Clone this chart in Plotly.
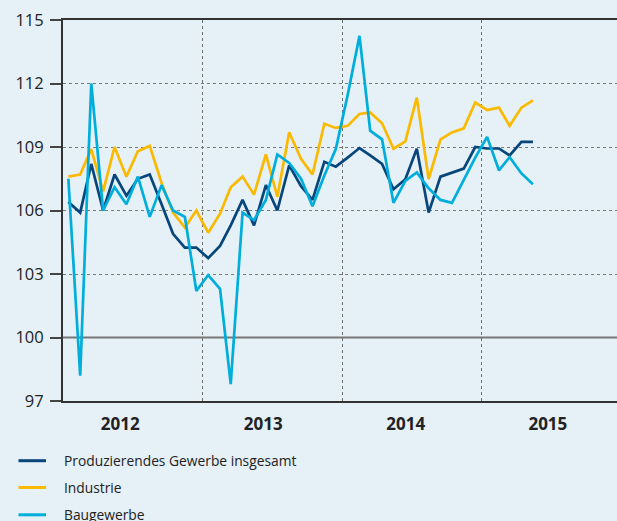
import plotly.graph_objects as go
import pandas as pd

# ---- data (monthly, Jan 2012 - May 2015) ----
months = pd.date_range("2012-01-01", periods=41, freq="MS") + pd.Timedelta(days=14)

gesamt = [106.4, 105.9, 108.2, 106.0, 107.7, 106.7, 107.5, 107.7, 106.3, 104.9,
          104.25, 104.25, 103.75, 104.33, 105.3, 106.5, 105.3, 107.2, 106.0, 108.13,
          107.15, 106.5, 108.3, 108.07, 108.5, 108.95, 108.6, 108.2, 107.0, 107.48,
          108.92, 105.9, 107.6, 107.8, 107.98, 109.0, 108.93, 108.93, 108.6, 109.24,
          109.24]
industrie = [107.6, 107.7, 108.9, 106.9, 109.0, 107.6, 108.8, 109.05, 107.3, 105.9,
             105.2, 106.0, 104.95, 105.85, 107.1, 107.6, 106.75, 108.65, 106.65, 109.7,
             108.44, 107.7, 110.1, 109.9, 110.0, 110.56, 110.63, 110.12, 108.92, 109.27,
             111.33, 107.48, 109.36, 109.69, 109.88, 111.1, 110.75, 110.86, 110.0, 110.86,
             111.2]
bau = [107.5, 98.2, 112.0, 106.0, 107.1, 106.3, 107.6, 105.7, 107.2, 106.0,
       105.7, 102.2, 102.95, 102.3, 97.8, 105.9, 105.55, 106.5, 108.65, 108.25,
       107.5, 106.2, 107.65, 108.9, 111.45, 114.25, 109.77, 109.36, 106.36, 107.4,
       107.8, 107.05, 106.5, 106.36, 107.45, 108.5, 109.48, 107.9, 108.52, 107.75,
       107.24]

series_names = ["Produzierendes Gewerbe insgesamt", "Industrie", "Baugewerbe"]
series_values = [gesamt, industrie, bau]
series_colors = ["#07467b", "#fbb900", "#00aedb"]

year_labels = ["2012", "2013", "2014", "2015"]
year_label_pos = ["2012-05-30", "2013-06-08", "2014-06-16", "2015-06-23"]
year_bounds = ["2013-01-01", "2014-01-01", "2015-01-01"]
y_ticks = [97, 100, 103, 106, 109, 112, 115]

W, H = 617, 521
ML, MR, MT, MB = 63, 0, 20, 120
PW, PH = W - ML - MR, H - MT - MB
BG = "#e5f0f7"
FONT = "Open Sans"

fig = go.Figure()
for name, vals, col in zip(series_names, series_values, series_colors):
    fig.add_trace(go.Scatter(x=months, y=vals, mode="lines", name=name,
                             line=dict(color=col, width=2.7), showlegend=False))

def px_x(p):
    return (p - ML) / PW

def px_y(p):
    return (H - MB - p) / PH

shapes = [dict(type="line", xref="paper", yref="y", x0=0, x1=1, y0=100, y1=100,
               line=dict(color="#777777", width=2), layer="below")]
annotations = []
legend_y = [460.7, 487.5, 514.8]
for name, col, ly in zip(series_names, series_colors, legend_y):
    shapes.append(dict(type="line", xref="paper", yref="paper",
                       x0=px_x(18.5), x1=px_x(46), y0=px_y(ly), y1=px_y(ly),
                       line=dict(color=col, width=3)))
    annotations.append(dict(xref="paper", yref="paper", x=px_x(62), y=px_y(ly),
                            xanchor="left", yanchor="middle", showarrow=False,
                            text=name, font=dict(family=FONT, size=13.8, color="#222222")))

fig.update_layout(
    width=W, height=H,
    margin=dict(l=ML, r=MR, t=MT, b=MB, autoexpand=False),
    paper_bgcolor=BG, plot_bgcolor=BG,
    font=dict(family=FONT, color="#222222"),
    shapes=shapes, annotations=annotations,
    showlegend=False,
)
fig.update_xaxes(
    range=["2012-01-01", "2015-12-21"],
    tickmode="array", tickvals=year_label_pos, ticktext=year_labels,
    tickfont=dict(family=FONT, size=17, color="#222222", weight="bold"),
    ticks="", ticklabelstandoff=7, showgrid=False, zeroline=False,
    showline=True, mirror=True, linecolor="#333333", linewidth=2,
    minor=dict(tickmode="array", tickvals=year_bounds, showgrid=True,
               griddash="dot", gridcolor="#6f6f6f", gridwidth=1, ticks=""),
)
fig.update_yaxes(
    range=[97, 115], tickmode="array", tickvals=y_ticks,
    tickfont=dict(family=FONT, size=16.5, color="#222222"),
    ticks="outside", ticklen=11, tickwidth=2, tickcolor="#444444",
    ticklabelstandoff=3, mirror=False,
    showgrid=True, griddash="dot", gridcolor="#7a7a7a", gridwidth=1,
    zeroline=False, showline=True, linecolor="#333333", linewidth=2,
)

fig.write_html(
    "out.html",
    config={"displayModeBar": False},
    post_script="document.body.style.margin='0';document.body.style.overflow='hidden';"
                "document.documentElement.style.overflow='hidden';",
)
